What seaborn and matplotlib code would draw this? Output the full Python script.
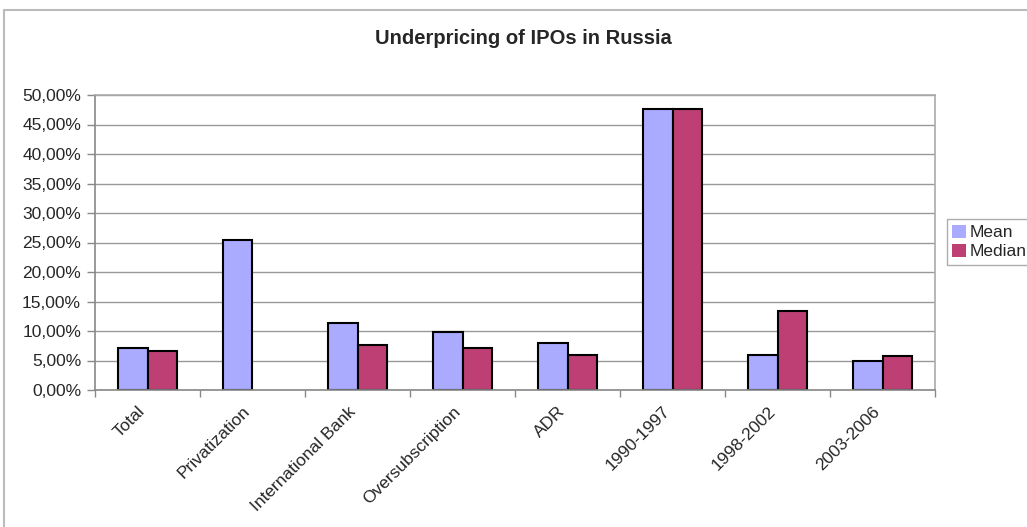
import matplotlib
matplotlib.use("Agg")

import numpy as np
import pandas as pd
import matplotlib.pyplot as plt
import matplotlib.transforms as mtransforms
from matplotlib.lines import Line2D
from matplotlib.patches import Patch
from matplotlib.ticker import FuncFormatter, FixedLocator
import seaborn as sns

categories = ["Total", "Privatization", "International Bank", "Oversubscription",
              "ADR", "1990-1997", "1998-2002", "2003-2006"]
mean_pct = [7.05, 25.4, 11.4, 9.8, 8.05, 47.6, 5.95, 4.9]
median_pct = [6.6, np.nan, 7.7, 7.1, 5.95, 47.6, 13.4, 5.8]

series_names = ["Mean", "Median"]
colors = {"Mean": "#AAAAFF", "Median": "#BE3F73"}

df = pd.DataFrame({
    "category": categories * 2,
    "series": ["Mean"] * len(categories) + ["Median"] * len(categories),
    "value": mean_pct + median_pct,
})

sns.set_theme(style="white")
plt.rcParams["font.family"] = ["Liberation Sans", "DejaVu Sans"]

fig = plt.figure(figsize=(10.27, 5.27), dpi=100)
ax = fig.add_axes([95 / 1027, 1 - 390 / 527, 840 / 1027, 295 / 527])

sns.barplot(data=df, x="category", y="value", hue="series",
            order=categories, hue_order=series_names, palette=colors,
            saturation=1, width=0.57, edgecolor="black", linewidth=1.5,
            ax=ax, legend=False)

ax.set_ylim(0, 50)
ax.set_xlim(-0.5, len(categories) - 0.5)
ax.set_yticks(np.arange(0, 50.1, 5))
ax.yaxis.set_major_formatter(
    FuncFormatter(lambda v, p: f"{v:.2f}%".replace(".", ",")))
ax.grid(axis="y", color="#999999", linewidth=1)
ax.set_axisbelow(True)

ax.set_xlabel("")
ax.set_ylabel("")
ax.set_xticks(range(len(categories)))
ax.set_xticklabels(categories, rotation=45, ha="right", rotation_mode="anchor")
ax.tick_params(axis="x", which="major", length=0, labelsize=12.5, pad=10)
shift = mtransforms.ScaledTranslation(-10 / 100, 0, fig.dpi_scale_trans)
for lbl in ax.get_xticklabels():
    lbl.set_transform(lbl.get_transform() + shift)
ax.xaxis.set_minor_locator(FixedLocator(np.arange(-0.5, len(categories), 1.0)))
ax.tick_params(axis="x", which="minor", length=5, color="#888888", width=1,
               bottom=True)
ax.tick_params(axis="y", length=6, color="#888888", width=1, labelsize=12.5,
               left=True, pad=4)

for side in ["top", "right"]:
    ax.spines[side].set_color("#AAAAAA")
    ax.spines[side].set_linewidth(1.2)
for side in ["left", "bottom"]:
    ax.spines[side].set_color("#888888")
    ax.spines[side].set_linewidth(1.2)

fig.text(523 / 1027, 1 - 39 / 527, "Underpricing of IPOs in Russia",
         ha="center", va="center", fontsize=14.5, fontweight="bold")

handles = [Patch(facecolor=colors[s], edgecolor="none") for s in series_names]
fig.legend(handles, series_names, loc="center left",
           bbox_to_anchor=(947 / 1027, 1 - 242 / 527), fontsize=12.5,
           frameon=True, fancybox=False, edgecolor="#999999",
           handlelength=0.8, handleheight=0.8, handletextpad=0.2,
           borderpad=0.3, labelspacing=0.2, borderaxespad=0)

# outer chart frame
fig.add_artist(Line2D([4 / 1027, 4 / 1027], [0, 1 - 10 / 527],
                      transform=fig.transFigure, color="#BBBBBB", lw=1.5))
fig.add_artist(Line2D([4 / 1027, 1], [1 - 10 / 527, 1 - 10 / 527],
                      transform=fig.transFigure, color="#BBBBBB", lw=1.5))

fig.savefig("out.png", dpi=100)
plt.close(fig)
